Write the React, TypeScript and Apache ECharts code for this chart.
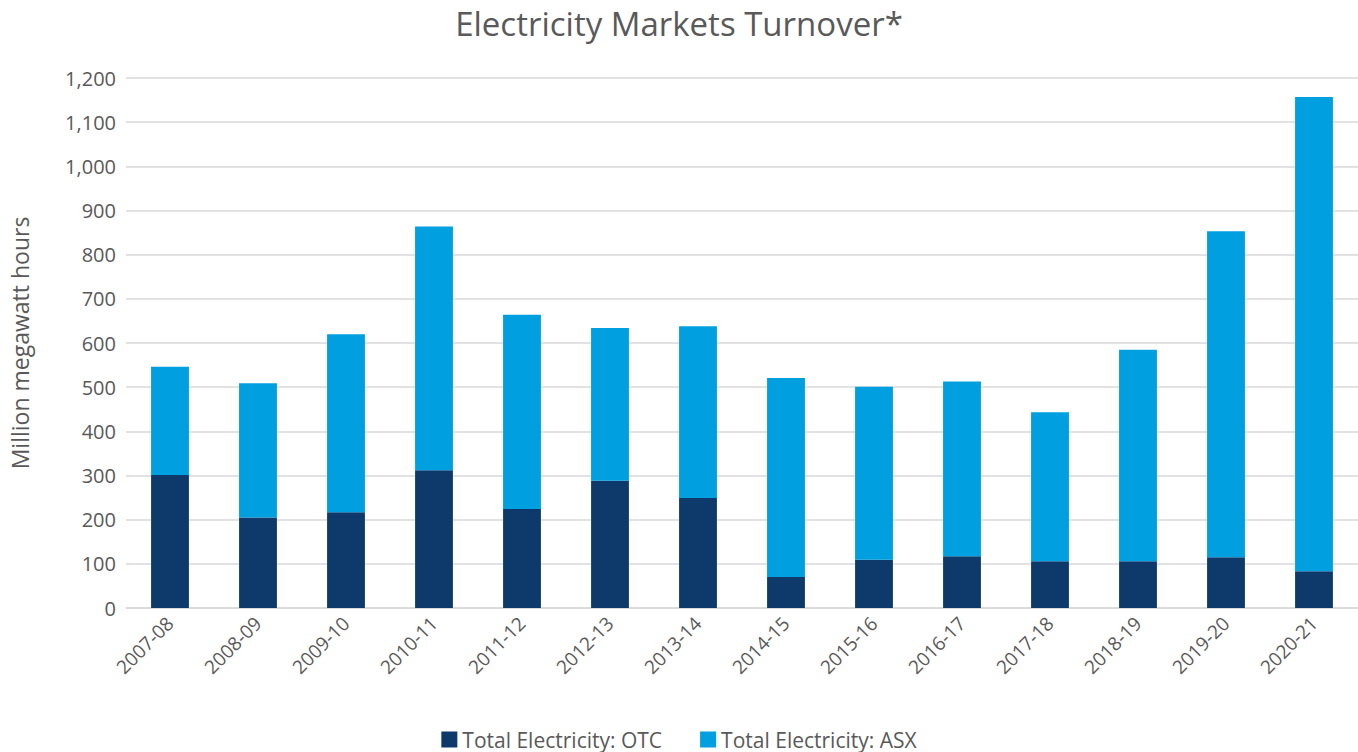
import React, { useEffect, useRef } from "react";
import * as echarts from "echarts";

const categories = ["2007-08", "2008-09", "2009-10", "2010-11", "2011-12", "2012-13", "2013-14", "2014-15", "2015-16", "2016-17", "2017-18", "2018-19", "2019-20", "2020-21"];
const otcValues = [301, 205, 217, 312, 224, 288, 249, 70, 109, 117, 106, 106, 115, 83];
const totalValues = [546, 509, 620, 864, 664, 634, 638, 521, 501, 513, 443, 585, 853, 1157];
const asxValues = totalValues.map((t, i) => t - otcValues[i]);
const yTicks = [0, 100, 200, 300, 400, 500, 600, 700, 800, 900, 1000, 1100, 1200];

export default function App() {
  const ref = useRef<HTMLDivElement>(null);
  useEffect(() => {
    if (!ref.current) return;
    const chart = echarts.init(ref.current, null, { renderer: "svg" });
    const font = "'Open Sans', Calibri, 'Noto Sans', sans-serif";
    chart.setOption({
      animation: false,
      textStyle: { fontFamily: font },
      title: {
        text: "Electricity Markets Turnover*",
        left: "center",
        top: 2,
        textStyle: { fontSize: 33, fontWeight: "normal", color: "#595959", fontFamily: font },
      },
      legend: {
        bottom: -3,
        left: "center",
        itemWidth: 16,
        itemHeight: 16,
        itemGap: 38,
        icon: "rect",
        textStyle: { fontSize: 21, color: "#595959", fontFamily: font },
        data: ["Total Electricity: OTC", "Total Electricity: ASX"],
      },
      grid: { left: 123, right: 0, top: 78, bottom: 144, containLabel: false },
      xAxis: {
        type: "category",
        data: categories,
        axisLine: { show: true, lineStyle: { color: "#d9d9d9", width: 1.5 } },
        axisTick: { show: false },
        axisLabel: { rotate: 45, fontSize: 19, color: "#595959", margin: 12, interval: 0 },
      },
      yAxis: {
        type: "value",
        min: yTicks[0],
        max: yTicks[yTicks.length - 1],
        interval: 100,
        name: "Million megawatt hours",
        nameLocation: "middle",
        nameGap: 95,
        nameTextStyle: { fontSize: 23, color: "#595959" },
        axisLine: { show: false },
        axisTick: { show: false },
        splitLine: { lineStyle: { color: "#d9d9d9", width: 1.5 } },
        axisLabel: {
          fontSize: 20,
          color: "#595959",
          margin: 10,
          formatter: (v: number) => v.toLocaleString("en-US"),
        },
      },
      series: [
        {
          name: "Total Electricity: OTC",
          type: "bar",
          stack: "total",
          data: otcValues,
          barWidth: "43%",
          itemStyle: { color: "#0E3A6B" },
        },
        {
          name: "Total Electricity: ASX",
          type: "bar",
          stack: "total",
          data: asxValues,
          barWidth: "43%",
          itemStyle: { color: "#009FDF" },
        },
      ],
    });
    return () => chart.dispose();
  }, []);
  return <div ref={ref} style={{ width: 1358, height: 752, position: "absolute", left: 0, top: 0 }} />;
}
